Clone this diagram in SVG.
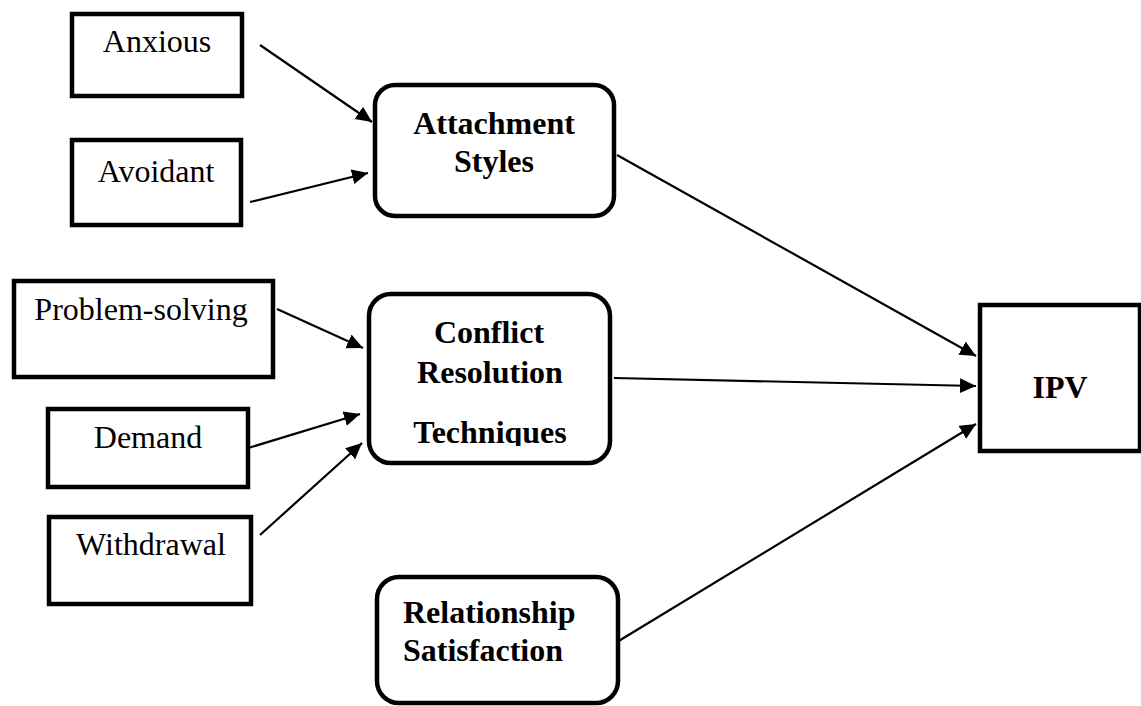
<svg xmlns="http://www.w3.org/2000/svg" width="1141" height="706" viewBox="0 0 1141 706">
<style>
.box{fill:#fff;stroke:#000;stroke-width:4.5}
.t{font-family:"Liberation Serif","Times New Roman",serif;font-size:32px;fill:#000}
.b{font-weight:bold}
.c{text-anchor:middle}
.edge{stroke:#000;stroke-width:2.2;fill:none;marker-end:url(#ah)}
</style>
<defs>
<marker id="ah" markerUnits="userSpaceOnUse" markerWidth="18" markerHeight="16" refX="16" refY="7.5" orient="auto">
<path d="M0,0 L16,7.5 L0,15 Z" fill="#000"/>
</marker>
<clipPath id="clipT"><rect x="360" y="400" width="260" height="46"/></clipPath>
</defs>
<rect width="1141" height="706" fill="#fff"/>
<g id="connectors">
<line class="edge" x1="260" y1="45" x2="372" y2="122"/>
<line class="edge" x1="250" y1="202" x2="368" y2="173"/>
<line class="edge" x1="277" y1="309" x2="363" y2="348"/>
<line class="edge" x1="245" y1="449" x2="360" y2="414"/>
<line class="edge" x1="260" y1="535" x2="362" y2="443"/>
<line class="edge" x1="617" y1="155" x2="976" y2="356"/>
<line class="edge" x1="614" y1="378" x2="976" y2="386"/>
<line class="edge" x1="617" y1="642" x2="976" y2="424"/>
</g>
<g id="anxious">
<rect class="box" x="72" y="14" width="170" height="82"/>
<text class="t c" x="157" y="52">Anxious</text>
</g>
<g id="avoidant">
<rect class="box" x="72" y="140" width="169" height="85"/>
<text class="t c" x="156" y="182">Avoidant</text>
</g>
<g id="problem-solving">
<rect class="box" x="14" y="281" width="259" height="96"/>
<text class="t c" x="141" y="320">Problem-solving</text>
</g>
<g id="demand">
<rect class="box" x="48" y="409" width="200" height="78"/>
<text class="t c" x="148" y="448">Demand</text>
</g>
<g id="withdrawal">
<rect class="box" x="49" y="517" width="202" height="87"/>
<text class="t c" x="151" y="555">Withdrawal</text>
</g>
<g id="attachment-styles">
<rect class="box" x="375" y="85" width="239" height="131" rx="20"/>
<text class="t b c" x="494" y="134">Attachment</text>
<text class="t b c" x="494" y="172">Styles</text>
</g>
<g id="conflict-resolution">
<rect class="box" x="369" y="294" width="241" height="169" rx="22"/>
<text class="t b c" x="489" y="343">Conflict</text>
<text class="t b c" x="490" y="383">Resolution</text>
<text class="t b c" x="490" y="443" clip-path="url(#clipT)">Techniques</text>
</g>
<g id="relationship-satisfaction">
<rect class="box" x="377" y="577" width="241" height="126" rx="22"/>
<text class="t b" x="403" y="623">Relationship</text>
<text class="t b" x="403" y="661">Satisfaction</text>
</g>
<g id="ipv">
<rect class="box" x="980" y="305" width="160" height="146"/>
<text class="t b c" x="1060" y="398">IPV</text>
</g>
</svg>
